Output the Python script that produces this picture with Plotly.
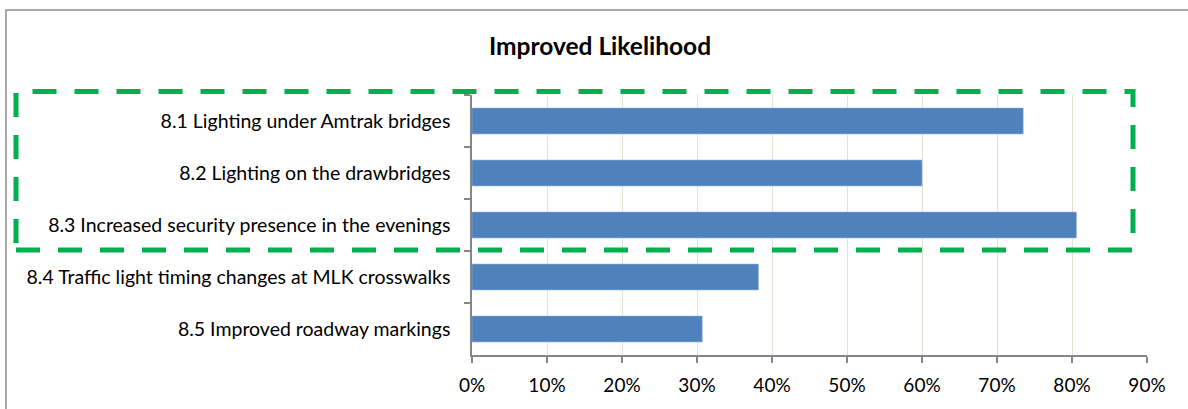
import plotly.graph_objects as go

categories = [
    "8.1 Lighting under Amtrak bridges",
    "8.2 Lighting on the drawbridges",
    "8.3 Increased security presence in the evenings",
    "8.4 Traffic light timing changes at MLK crosswalks",
    "8.5 Improved roadway markings",
]
values = [0.735, 0.600, 0.806, 0.382, 0.307]
x_tick_vals = [0, 0.1, 0.2, 0.3, 0.4, 0.5, 0.6, 0.7, 0.8, 0.9]
title_text = "Improved Likelihood"

W, H = 1188, 409
L, R, T, B = 472, 41, 95, 54
pw, ph = W - L - R, H - T - B

def px_x(px):
    return (px - L) / pw

def px_y(py):
    return (H - B - py) / ph

FONT = "Lato"

fig = go.Figure(go.Bar(
    y=categories, x=values, orientation="h",
    marker=dict(color="#4f81bd", line=dict(color="#9db8dc", width=0.6)),
    width=0.5,
))

fig.update_layout(
    width=W, height=H,
    margin=dict(l=L, r=R, t=T, b=B, autoexpand=False),
    paper_bgcolor="white", plot_bgcolor="white",
    showlegend=False,
    font=dict(family=FONT, size=19.5, color="#000000"),
    title=dict(text="<b>" + title_text + "</b>", x=600 / W, xanchor="center",
               y=1 - 46 / H, yanchor="middle",
               font=dict(family=FONT, size=24.5, color="#000000")),
    xaxis=dict(range=[0, 0.9], tickvals=x_tick_vals, tickformat=".0%",
               showgrid=True, gridcolor="#e4e0d2", gridwidth=1,
               showline=True, linecolor="#868686", linewidth=1.5,
               ticks="outside", ticklen=6, tickcolor="#868686", tickwidth=1.5,
               zeroline=False, ticklabelstandoff=6,
               tickfont=dict(family=FONT, size=19)),
    yaxis=dict(autorange="reversed", showgrid=False,
               showline=True, linecolor="#868686", linewidth=1.5,
               ticks="outside", ticklen=6, tickcolor="#868686", tickwidth=1.5,
               tickson="boundaries", ticklabelstandoff=16,
               tickfont=dict(family=FONT, size=19.5)),
    shapes=[
        dict(type="rect", xref="paper", yref="paper",
             x0=px_x(6), x1=px_x(1300), y0=px_y(500), y1=px_y(10),
             line=dict(color="#8c8c8c", width=1.5), fillcolor="rgba(0,0,0,0)"),
        dict(type="rect", xref="paper", yref="paper",
             x0=px_x(16), x1=px_x(1133), y0=px_y(250), y1=px_y(91.5),
             line=dict(color="#00b050", width=5, dash="24px,18px"),
             fillcolor="rgba(0,0,0,0)"),
    ],
)

fig.write_html("out.html", config={"displayModeBar": False},
               post_script="document.body.style.margin='0';")
